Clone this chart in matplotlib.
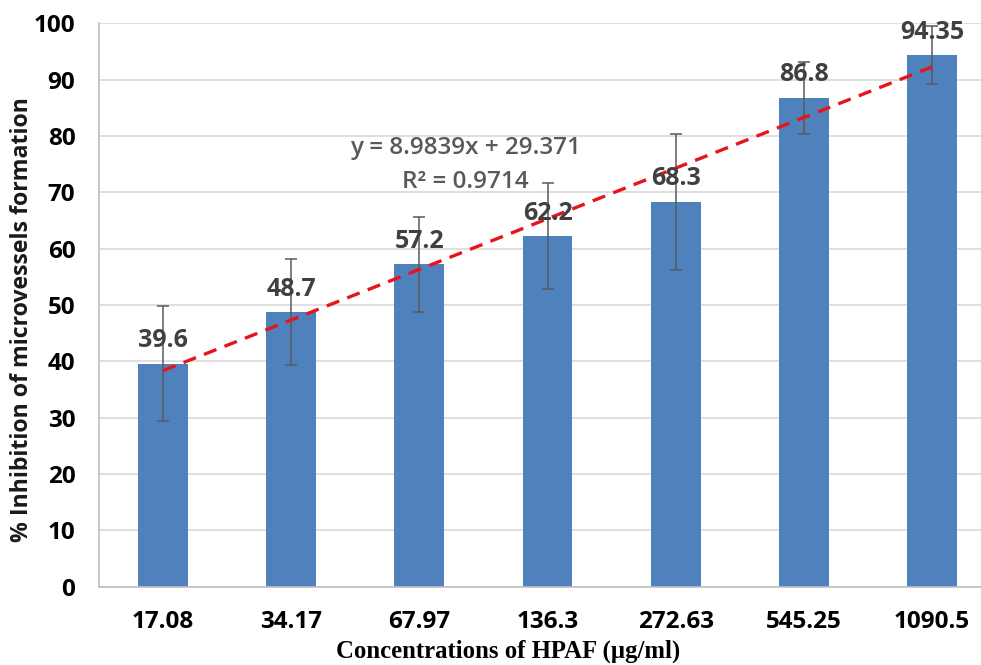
import matplotlib
matplotlib.use('Agg')
import matplotlib.pyplot as plt
import numpy as np

concentrations = ['17.08', '34.17', '67.97', '136.3', '272.63', '545.25', '1090.5']
inhibition = [39.6, 48.7, 57.2, 62.2, 68.3, 86.8, 94.35]
errors = [10.2, 9.4, 8.4, 9.4, 12.0, 6.4, 5.2]
value_labels = ['39.6', '48.7', '57.2', '62.2', '68.3', '86.8', '94.35']
slope, intercept = 8.9839, 29.371
r_squared = 0.9714

plt.rcParams['font.family'] = ['Open Sans', 'DejaVu Sans']

fig = plt.figure(figsize=(9.81, 6.65), dpi=100)
ax = fig.add_axes([99 / 981, 78.3 / 665, 897 / 981, 563.4 / 665])

x = np.arange(len(concentrations))
ax.bar(x, inhibition, width=0.39, color='#4F81BD', zorder=2)
ax.errorbar(x, inhibition, yerr=errors, fmt='none', ecolor='#595959',
            elinewidth=1.1, capsize=4, capthick=1.1, zorder=3)

# linear trendline, Excel uses category index 1..7 as x
trend_x = x + 1
ax.plot(x, slope * trend_x + intercept, color='#E8141C', linestyle=(0, (4, 2.6)),
        linewidth=2.4, zorder=4)

for xi, val, lab in zip(x, inhibition, value_labels):
    ax.annotate(lab, (xi, val), xytext=(0, 16.5), textcoords='offset points',
                ha='center', va='center', fontsize=18, fontweight='bold', color='#404040',
                zorder=5)

ax.text(2.36, 77.9, f'y = {slope}x + {intercept}', ha='center', va='center',
        fontsize=17.5, fontweight='semibold', color='#595959')
ax.text(2.36, 71.9, f'R² = {r_squared}', ha='center', va='center',
        fontsize=17.5, fontweight='semibold', color='#595959')

ax.set_xlim(-0.5, 6.5)
ax.set_ylim(0, 100)
ax.set_yticks(range(0, 101, 10))
ax.set_xticks(x)
ax.set_xticklabels(concentrations)
ax.tick_params(axis='both', length=0, labelsize=17.5, labelcolor='black')
ax.tick_params(axis='y', pad=17)
ax.tick_params(axis='x', pad=17)
for lab in ax.get_xticklabels() + ax.get_yticklabels():
    lab.set_fontweight('bold')

ax.grid(axis='y', color='#D9D9D9', linewidth=1.2, zorder=0)
ax.set_axisbelow(True)
for side in ['top', 'right']:
    ax.spines[side].set_visible(False)
for side in ['left', 'bottom']:
    ax.spines[side].set_color('#BFBFBF')
    ax.spines[side].set_linewidth(1.2)

fig.text(22 / 981, 1 - 320 / 665, '% Inhibition of microvessels formation', rotation=90,
         ha='center', va='center', fontsize=16.7, fontweight='bold', color='#1a1a1a')
fig.text(508 / 981, 1 - 651 / 665, 'Concentrations of HPAF (µg/ml)', ha='center', va='center',
         fontsize=17.8, fontweight='bold', color='black', family=['Liberation Serif'])

fig.savefig('out.png', dpi=100)
